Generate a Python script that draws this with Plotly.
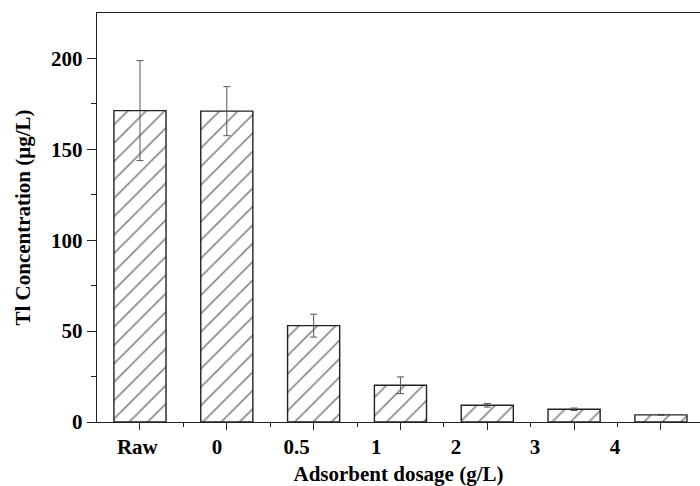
import plotly.graph_objects as go

# ---- data ----
categories = ["Raw", "0", "0.5", "1", "2", "3", "4"]
concentration = [171.3, 171.0, 53.0, 20.2, 9.2, 7.0, 3.9]
errors = [27.5, 13.5, 6.3, 4.6, 1.0, 0.7, 0.3]

# ---- layout helpers ----
bar_x = list(range(len(categories)))
label_pos = [-0.03, 0.887, 1.805, 2.72, 3.64, 4.55, 5.47]

FONT = dict(family="Liberation Serif, Times New Roman, serif", size=21, color="black", weight="bold")

fig = go.Figure()
fig.add_trace(go.Bar(
    x=bar_x, y=concentration, width=0.6,
    marker=dict(color="white", line=dict(color="#222", width=1.4),
                pattern=dict(shape="/", size=13, solidity=0.13, fgcolor="#111", bgcolor="white")),
    error_y=dict(type="data", array=errors, visible=True, color="#555", thickness=1, width=3.5),
    showlegend=False,
))
# invisible trace to activate label axis
fig.add_trace(go.Scatter(x=[label_pos[0]], y=[0], xaxis="x2", mode="markers",
                         marker=dict(opacity=0), showlegend=False, hoverinfo="skip"))

xr = [-0.495, 6.45]
fig.update_layout(
    width=700, height=486,
    margin=dict(l=97, r=0, t=13, b=64),
    paper_bgcolor="white", plot_bgcolor="white",
    font=FONT,
    xaxis=dict(range=xr, tickvals=bar_x, ticktext=[""] * len(bar_x),
               ticks="outside", ticklen=7, tickwidth=1.2, tickcolor="#222",
               showline=True, linecolor="#222", linewidth=1.4, mirror=True,
               showgrid=False, zeroline=False,
               minor=dict(tickvals=[i + 0.5 for i in bar_x[:-1]], ticks="outside", ticklen=4, tickwidth=1.2, tickcolor="#222")),
    xaxis2=dict(range=xr, overlaying="x", side="bottom", tickvals=label_pos, ticktext=categories,
                ticks="", showline=False, showgrid=False, zeroline=False,
                tickfont=FONT, ticklabelstandoff=10,
                title=dict(text="Adsorbent dosage (g/L)", font=FONT, standoff=8)),
    yaxis=dict(range=[0, 225], tickvals=[0, 50, 100, 150, 200],
               ticks="outside", ticklen=9, tickwidth=1.2, tickcolor="#222",
               showline=True, linecolor="#222", linewidth=1.4, mirror=False,
               showgrid=False, zeroline=False,
               minor=dict(tickvals=[25, 75, 125, 175], ticks="outside", ticklen=5, tickwidth=1.2, tickcolor="#222"),
               tickfont=FONT,
               title=dict(text="Tl Concentration (μg/L)", font=FONT, standoff=14)),
)
fig.write_html("out.html")
